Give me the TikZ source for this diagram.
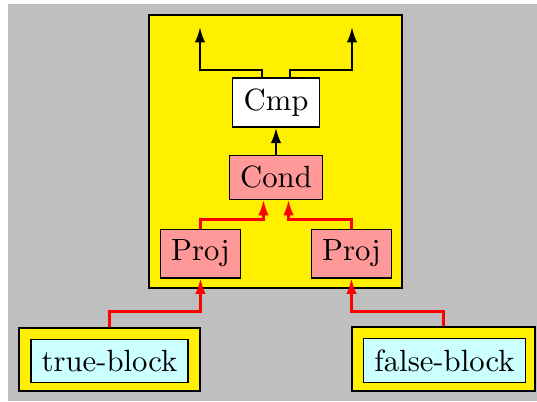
\documentclass[tikz,border=0pt]{standalone}
\usetikzlibrary{arrows.meta}
\definecolor{bggray}{RGB}{191,191,191}
\definecolor{boxyellow}{RGB}{255,240,0}
\definecolor{boxpink}{RGB}{255,153,153}
\definecolor{boxcyan}{RGB}{204,255,255}
\def\pxu{0.3257pt}
\begin{document}
\begin{tikzpicture}[x=\pxu,y=-\pxu,
  unit/.style={draw=black,line width=0.4pt,inner sep=3.5pt},
  plain/.style={unit,fill=white},
  op/.style={unit,fill=boxpink},
  blockname/.style={unit,fill=boxcyan},
  region/.style={draw=black,line width=0.4pt,fill=boxyellow,inner sep=0pt},
  flow/.style={line width=0.8pt,-{Latex[length=5pt,width=3.4pt]}},
  ctl/.style={flow,draw=red,color=red}]
\useasboundingbox (0,0) rectangle (537,401);
\fill[white] (0,0) rectangle (537,401);
\fill[bggray] (8,4) rectangle (537,401);

% the conditional region and its contents
\node[region,minimum width=253*\pxu,minimum height=273*\pxu] (reg) at (275.5,151.5) {};
\node[plain] (cmp) at (276,102.5) {Cmp};
\node[op] (cond) at (276,177.5) {Cond};
\node[op] (projL) at (200.5,253.5) {Proj};
\node[op] (projR) at (351.5,253.5) {Proj};

% the two branch blocks
\node[region,minimum width=181*\pxu,minimum height=63*\pxu] (tbwrap) at (109.5,359.5) {};
\node[blockname] (tb) at (109.5,361) {true-block};
\node[region,minimum width=183*\pxu,minimum height=64*\pxu] (fbwrap) at (443.5,359) {};
\node[blockname] (fb) at (444.5,360.5) {false-block};

% outputs of the comparison
\coordinate (outL) at (200,27);
\coordinate (outR) at (352,27);
\coordinate (kL) at (200,70);
\coordinate (kR) at (352,70);
\draw[flow] ([xshift=-14*\pxu]cmp.north) |- (kL) -- (outL);
\draw[flow] ([xshift=14*\pxu]cmp.north) |- (kR) -- (outR);
\draw[flow] (cond) -- (cmp);

% control edges
\draw[ctl] (projL.north) -- ++(0,-9) -| ([xshift=-12.5*\pxu]cond.south);
\draw[ctl] (projR.north) -- ++(0,-9) -| ([xshift=12.5*\pxu]cond.south);
\draw[ctl] (tbwrap.north) -- ++(0,-16) -| (projL.south);
\draw[ctl] (fbwrap.north) -- ++(0,-15) -| (projR.south);
\end{tikzpicture}
\end{document}
